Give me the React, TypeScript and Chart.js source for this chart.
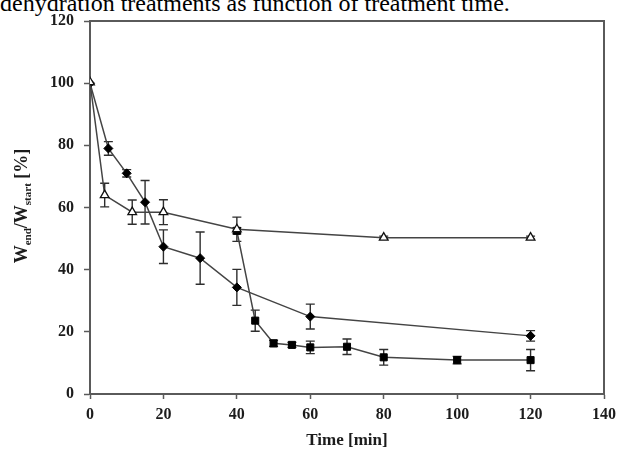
import React, { useEffect, useRef } from "react";
import { Chart, registerables } from "chart.js";
Chart.register(...registerables);

const titleText = "dehydration treatments as function of treatment time.";
const xTitle = "Time [min]";

const triTime = [0, 4, 11.5, 20, 40, 80, 120];
const triValue = [100.3, 64, 58.5, 58.5, 53, 50.3, 50.3];
const triErr = [0, 3.8, 3.9, 4, 3.9, 0.5, 0.5];

const diaTime = [0, 5, 10, 15, 20, 30, 40, 60, 120];
const diaValue = [100, 79, 71, 61.7, 47.4, 43.7, 34.3, 24.9, 18.7];
const diaErr = [0, 2.2, 1.2, 7, 5.4, 8.4, 5.8, 4, 1.7];

const sqTime = [40, 45, 50, 55, 60, 70, 80, 100, 120];
const sqValue = [52.5, 23.6, 16.3, 15.8, 15, 15.2, 11.8, 10.9, 10.9];
const sqErr = [1, 3.4, 1, 0.8, 2, 2.5, 2.5, 1.2, 3.4];

const xMin = 0, xMax = 140, xStep = 20;
const yMin = 0, yMax = 120, yStep = 20;

const LINE = "#444444";
const AXIS = "#5a5a5a";
const TEXT = "#1c1c1c";
const SERIF = "'Liberation Serif', 'Times New Roman', serif";

const toPts = (t: number[], v: number[]) => t.map((x, i) => ({ x, y: v[i] }));

const errorBarPlugin = {
  id: "errorBars",
  beforeDatasetsDraw(chart: any) {
    const ctx = chart.ctx;
    const xs = chart.scales.x;
    const ys = chart.scales.y;
    ctx.save();
    ctx.strokeStyle = "#2e2e2e";
    ctx.lineWidth = 1.4;
    chart.data.datasets.forEach((ds: any) => {
      const errs: number[] = ds.errors || [];
      ds.data.forEach((p: any, i: number) => {
        const e = errs[i];
        if (!e) return;
        const px = xs.getPixelForValue(p.x);
        const y1 = ys.getPixelForValue(p.y + e);
        const y2 = ys.getPixelForValue(p.y - e);
        const cap = 4.5;
        ctx.beginPath();
        ctx.moveTo(px, y1);
        ctx.lineTo(px, y2);
        ctx.moveTo(px - cap, y1);
        ctx.lineTo(px + cap, y1);
        ctx.moveTo(px - cap, y2);
        ctx.lineTo(px + cap, y2);
        ctx.stroke();
      });
    });
    ctx.restore();
  },
};

const framePlugin = {
  id: "frame",
  afterDraw(chart: any) {
    const { ctx, chartArea } = chart;
    const { left, right, top, bottom } = chartArea;
    ctx.save();
    ctx.strokeStyle = AXIS;
    ctx.lineWidth = 2;
    ctx.beginPath();
    ctx.moveTo(left, top);
    ctx.lineTo(right, top);
    ctx.lineTo(right, bottom);
    ctx.stroke();
    ctx.restore();
  },
};

const yTitlePlugin = {
  id: "yTitle",
  afterDraw(chart: any) {
    const ctx = chart.ctx;
    const main = `bold 18px ${SERIF}`;
    const sub = `bold 11px ${SERIF}`;
    const parts: [string, string, number][] = [
      ["W", main, 0],
      ["end", sub, 4],
      ["/W", main, 0],
      ["start", sub, 4],
      [" [%]", main, 0],
    ];
    ctx.save();
    let total = 0;
    parts.forEach(([t, f]) => {
      ctx.font = f;
      total += ctx.measureText(t).width;
    });
    ctx.translate(27, 206);
    ctx.rotate(-Math.PI / 2);
    ctx.fillStyle = TEXT;
    ctx.textBaseline = "alphabetic";
    ctx.textAlign = "left";
    let x = -total / 2;
    parts.forEach(([t, f, dy]) => {
      ctx.font = f;
      ctx.fillText(t, x, dy);
      x += ctx.measureText(t).width;
    });
    ctx.restore();
  },
};

export default function App() {
  const ref = useRef<HTMLCanvasElement | null>(null);

  useEffect(() => {
    if (!ref.current) return;
    const chart = new Chart(ref.current, {
      type: "scatter",
      data: {
        datasets: [
          {
            label: "triangle",
            data: toPts(triTime, triValue),
            errors: triErr,
            showLine: true,
            borderColor: LINE,
            borderWidth: 1.5,
            pointStyle: "triangle",
            pointRadius: 5,
            pointBackgroundColor: "#ffffff",
            pointBorderColor: "#111111",
            pointBorderWidth: 1.3,
          } as any,
          {
            label: "diamond",
            data: toPts(diaTime, diaValue),
            errors: diaErr,
            showLine: true,
            borderColor: LINE,
            borderWidth: 1.5,
            pointStyle: "rectRot",
            pointRadius: 4.5,
            pointBackgroundColor: "#000000",
            pointBorderColor: "#000000",
            pointBorderWidth: 1,
          } as any,
          {
            label: "square",
            data: toPts(sqTime, sqValue),
            errors: sqErr,
            showLine: true,
            borderColor: LINE,
            borderWidth: 1.5,
            pointStyle: "rect",
            pointRadius: 5,
            pointBackgroundColor: "#000000",
            pointBorderColor: "#000000",
            pointBorderWidth: 1,
          } as any,
        ],
      },
      options: {
        animation: false,
        responsive: false,
        devicePixelRatio: 1,
        layout: { padding: { top: 21, right: 14, left: 0, bottom: 0 } },
        plugins: {
          legend: { display: false },
          tooltip: { enabled: false },
        },
        scales: {
          x: {
            type: "linear",
            min: xMin,
            max: xMax,
            afterFit: (s: any) => {
              s.height = 65;
            },
            ticks: {
              stepSize: xStep,
              color: TEXT,
              padding: 6,
              font: { family: SERIF, size: 16, weight: "bold" },
            },
            grid: {
              display: true,
              drawOnChartArea: false,
              drawTicks: true,
              tickLength: 5,
              tickColor: AXIS,
              tickWidth: 1.5,
            },
            border: { display: true, color: AXIS, width: 2 },
            title: {
              display: true,
              text: xTitle,
              color: TEXT,
              font: { family: SERIF, size: 17, weight: "bold" },
              padding: { top: 0, bottom: 8 },
            },
          },
          y: {
            type: "linear",
            min: yMin,
            max: yMax,
            afterFit: (s: any) => {
              s.width = 90;
            },
            ticks: {
              stepSize: yStep,
              color: TEXT,
              padding: 10,
              font: { family: SERIF, size: 16, weight: "bold" },
            },
            grid: {
              display: true,
              drawOnChartArea: false,
              drawTicks: true,
              tickLength: 6,
              tickColor: AXIS,
              tickWidth: 1.5,
            },
            border: { display: true, color: AXIS, width: 2 },
          },
        },
      } as any,
      plugins: [errorBarPlugin, framePlugin, yTitlePlugin],
    });
    return () => chart.destroy();
  }, []);

  return (
    <div
      style={{
        position: "fixed",
        left: 0,
        top: 0,
        width: 622,
        height: 459,
        overflow: "hidden",
        background: "#ffffff",
      }}
    >
      <div
        style={{
          position: "absolute",
          left: 0,
          top: -9,
          fontFamily: SERIF,
          fontSize: 24,
          lineHeight: "24px",
          whiteSpace: "nowrap",
          color: "#000",
        }}
      >
        {titleText}
      </div>
      <canvas
        ref={ref}
        width={622}
        height={459}
        style={{ position: "absolute", left: 0, top: 0, width: 622, height: 459 }}
      />
    </div>
  );
}
